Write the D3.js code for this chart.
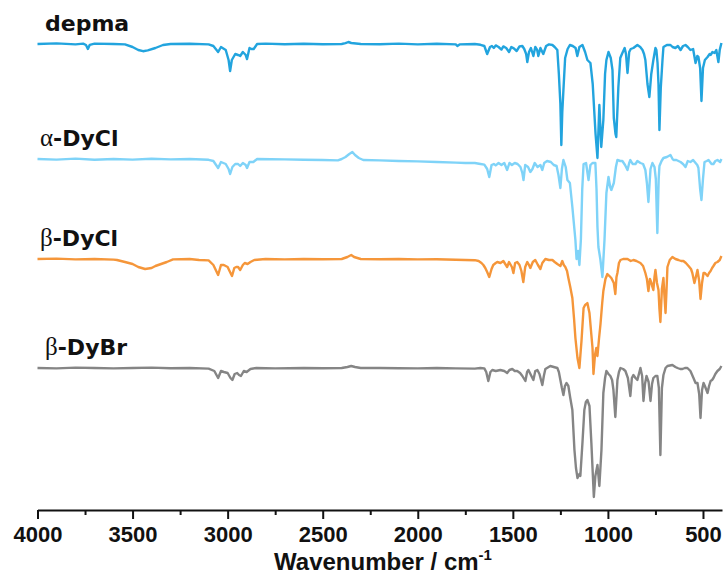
<!DOCTYPE html>
<html><head><meta charset="utf-8">
<script src="https://cdn.jsdelivr.net/npm/d3@7/dist/d3.min.js"></script>
<style>body{margin:0;background:#fff}svg{display:block}</style>
</head><body>
<script>
// ---- data ----
const seriesNames = ["depma", "α-DyCl", "β-DyCl", "β-DyBr"];
const seriesOffsets = [0, -57.5, -107.5, -162];           // stacking offset (%T units)
const seriesColors = ["#22a4de", "#7fd3f8", "#f5963a", "#858585"];
const xTicks = [4000, 3500, 3000, 2500, 2000, 1500, 1000, 500];
const xMinorTicks = [3750, 3250, 2750, 2250, 1750, 1250, 750];

// [wavenumber (cm-1), transmittance (%)]
const depma = [[4000,100],[3900,100.3],[3800,99.8],[3760,100.2],[3745,99.5],[3735,97.5],[3725,99.6],[3700,100.2],[3600,100],[3540,99.8],[3500,98.5],[3470,97],[3445,96.4],[3420,96.8],[3380,98],[3340,99.5],[3300,100],[3200,100.1],[3100,99.8],[3075,99],[3050,96],[3035,98.5],[3010,97],[2995,92],[2987,86.5],[2978,92],[2960,95],[2945,94.5],[2934,94],[2920,96],[2905,94.5],[2898,92.5],[2885,98],[2875,97.5],[2863,97.5],[2845,100],[2800,100.2],[2700,99.9],[2600,100.1],[2500,99.9],[2400,100],[2380,100.4],[2365,101],[2350,100.5],[2300,100],[2200,99.9],[2100,100.2],[2000,99.8],[1900,100.1],[1800,99.8],[1792,99],[1780,99.8],[1700,100],[1670,99.6],[1650,99],[1635,95],[1620,98.5],[1610,99],[1600,98],[1590,99.3],[1575,98.5],[1560,97.2],[1550,98.8],[1535,98],[1520,96],[1508,98.5],[1495,97.8],[1480,96.5],[1465,98.8],[1450,99],[1440,97.5],[1430,95],[1424,91],[1415,96],[1405,98],[1392,94],[1382,98.5],[1372,97],[1366,94],[1355,98],[1340,95],[1325,99],[1310,99.8],[1292,99.5],[1280,98.5],[1266,97],[1258,85],[1250,70],[1245,49.5],[1240,66],[1234,77],[1225,93],[1212,97.5],[1200,99.5],[1185,99],[1170,98],[1161,94],[1150,98.5],[1134,99.5],[1120,96],[1108,92],[1092,90.5],[1080,80],[1065,55],[1055,43],[1045,69.5],[1035,48.5],[1024,62],[1015,85],[1008,92],[997,96],[985,93],[976,87],[969,63],[960,55],[956,53.5],[945,78.5],[935,93],[924,95.5],[912,98],[905,95],[897,85.5],[888,96],[880,97.5],[866,98],[845,99.5],[830,98.5],[818,97],[810,95],[803,92],[792,80],[782,73.5],[772,85],[761,92],[750,98],[745,97],[739,90.5],[734,80],[729,57],[722,78],[713,92],[708,98.5],[690,99.5],[671,99.5],[660,98.5],[645,98],[632,99],[618,97],[605,99],[592,99.5],[580,98.5],[566,97],[552,97.5],[539,90.5],[530,94],[524,93.5],[515,88],[508,71.5],[500,88],[490,92],[476,93.5],[465,95],[460,94.5],[450,96],[439,95.5],[430,97],[419,91],[412,97],[403,100.5]];

const alphaDyCl = [[4000,100],[3900,99.7],[3800,100.2],[3700,99.6],[3600,100],[3500,99.7],[3400,100.1],[3300,99.8],[3200,100],[3100,99.6],[3075,99],[3050,95.5],[3035,98.5],[3010,97.5],[2995,95],[2987,92.5],[2975,96],[2960,97.5],[2945,97.5],[2934,96.5],[2920,98],[2905,97],[2898,95.5],[2885,98.5],[2865,98.5],[2845,100],[2700,99.8],[2600,99.6],[2500,99.5],[2420,99.3],[2400,100],[2380,101],[2360,102.5],[2344,103.5],[2330,102],[2310,100.5],[2287,99.5],[2200,99.3],[2100,99],[2000,98.8],[1900,98.5],[1800,98.2],[1750,98],[1700,98],[1670,97.5],[1650,97.2],[1635,95],[1624,91],[1612,97],[1600,97.5],[1590,96.8],[1575,98],[1560,97],[1545,98],[1530,94.5],[1518,98],[1505,97],[1490,98],[1475,97.5],[1460,96],[1450,93],[1444,89.5],[1435,97],[1420,96],[1408,93.5],[1397,95],[1385,98],[1370,96],[1355,97],[1345,94.5],[1335,98],[1320,99],[1300,98.5],[1285,97],[1270,96.5],[1260,92],[1250,85.5],[1242,95],[1234,99.5],[1222,96],[1213,89.5],[1200,88],[1187,76],[1171,59.5],[1165,50],[1157,54],[1150,47],[1142,60],[1135,85],[1128,97.5],[1115,98],[1102,89.5],[1092,97],[1081,98],[1066,98],[1060,85],[1055,66],[1050,56],[1040,50],[1029,41],[1018,59.5],[1008,83],[997,91],[988,86],[982,84.5],[969,88],[958,96],[950,99.5],[935,99],[924,99],[910,97],[897,94.5],[888,98],[882,99.5],[870,97.5],[855,97.5],[845,99],[829,98],[815,97.5],[803,94.5],[795,88],[787,78.5],[776,95],[766,98],[755,96],[748,90],[740,63],[733,90],[729,96.5],[718,99],[708,100.5],[690,101],[671,102],[660,100],[655,99.5],[640,99.5],[618,98.5],[605,97.5],[592,96],[580,99],[566,98.5],[552,99.5],[539,98],[530,97],[524,95.5],[515,85],[508,79.5],[500,90],[492,98.5],[480,99],[471,99.5],[455,97.5],[445,97.5],[435,99],[424,99.5],[410,98.5],[403,100]];

const betaDyCl = [[4000,100],[3900,100.2],[3800,99.8],[3700,100],[3600,99.7],[3582,99.5],[3540,98.5],[3500,97.5],[3470,96],[3434,95],[3400,95.5],[3380,96.5],[3350,97.5],[3320,98.5],[3287,99.8],[3200,100],[3150,99.5],[3100,99.3],[3075,97],[3050,92],[3035,97],[3020,97],[3000,96],[2990,94],[2977,91.5],[2965,95.5],[2955,96],[2945,96],[2934,94.5],[2920,97],[2910,98],[2895,97.5],[2880,98.5],[2860,99.5],[2800,100],[2700,99.8],[2600,100],[2500,99.9],[2400,100],[2370,101],[2350,102],[2335,101],[2300,100],[2200,99.9],[2100,100],[2000,99.8],[1900,99.9],[1800,99.6],[1750,99.5],[1700,99.4],[1680,99],[1665,98],[1655,97],[1645,95.5],[1635,93.5],[1624,91],[1612,95],[1603,97],[1590,98],[1582,98.5],[1565,98],[1550,99],[1540,97.5],[1530,96],[1520,98.5],[1505,96],[1497,93],[1488,98],[1477,98.5],[1465,97],[1455,94],[1445,88.5],[1435,96],[1424,98.5],[1415,97],[1408,95.5],[1395,98.5],[1382,99.5],[1368,97],[1355,95],[1345,98],[1329,100],[1310,99.5],[1292,99.5],[1280,98.5],[1266,97.5],[1250,96.5],[1240,99],[1232,97],[1224,96],[1215,94],[1208,90.5],[1198,86],[1187,80.5],[1178,70],[1171,60.5],[1160,50.5],[1150,45.5],[1139,59],[1128,75.5],[1120,77],[1113,77.5],[1108,78],[1097,73],[1087,62],[1081,55.5],[1076,42.5],[1068,52],[1061,55.5],[1055,51.5],[1047,60],[1039,67.5],[1030,78],[1024,84],[1013,90],[1003,92.5],[992,91.5],[982,90.5],[969,88],[961,82.5],[955,91],[950,93],[942,98],[934,99.5],[920,100],[897,100],[880,99],[866,99.5],[850,99],[829,98],[815,96.5],[803,93],[795,90],[787,84],[779,90],[771,88],[766,86],[761,84.5],[755,91],[750,94.5],[742,88],[734,84.5],[729,75],[724,68.5],[716,85],[708,90.5],[703,82],[697,73],[692,84],[687,96],[675,99.5],[661,101],[645,100],[629,99.5],[615,99],[603,99],[590,98],[576,96.5],[563,95],[556,93],[545,88],[535,92],[529,94.5],[520,89],[513,80],[505,88],[497,93],[490,93],[476,91.5],[468,93],[460,94],[452,95.5],[445,96.5],[435,98],[424,98.5],[412,99.5],[403,101.5]];

const betaDyBr = [[4000,100],[3900,99.8],[3800,100.2],[3700,100],[3600,99.8],[3500,100],[3400,100.2],[3300,99.9],[3200,100],[3100,99.7],[3070,98.5],[3050,95],[3035,98.5],[3020,98],[3000,97.5],[2985,95],[2975,94],[2963,97],[2950,97.5],[2940,96.5],[2930,96],[2915,98.5],[2900,98],[2880,99.5],[2850,100],[2750,99.8],[2600,100],[2500,99.9],[2400,100],[2370,100.5],[2350,101],[2330,100.5],[2300,100],[2200,100],[2100,99.9],[2000,99.8],[1900,100],[1800,99.8],[1700,99.7],[1671,100],[1650,99.8],[1640,98],[1629,93.5],[1618,98],[1608,99],[1590,98.5],[1566,99],[1545,98.5],[1530,97.5],[1518,99],[1503,99.5],[1490,98.5],[1477,98.5],[1462,97.5],[1450,96],[1434,93.5],[1425,98],[1418,99],[1405,96.5],[1392,94],[1382,98.5],[1371,99],[1360,97],[1345,91.5],[1337,96],[1329,99.5],[1303,101],[1285,100.5],[1266,100],[1258,98],[1250,94],[1242,90],[1234,86.5],[1226,91],[1218,92.5],[1208,91],[1198,85],[1187,79],[1176,59],[1168,50],[1160,45],[1150,47],[1145,46],[1134,62.5],[1124,79],[1116,83],[1108,84],[1097,81],[1087,62.5],[1081,50],[1074,35.5],[1066,46],[1055,51.5],[1045,41],[1034,59],[1024,87.5],[1015,95],[1008,98.5],[997,97],[987,96],[978,94],[971,89],[961,75.5],[950,94],[942,98],[934,100],[920,99.5],[908,98.5],[895,95],[882,86],[874,95],[866,96.5],[855,95],[845,94],[837,97],[829,100],[820,96],[813,83.5],[805,92],[797,96],[786,93],[776,83.5],[768,92],[761,95],[750,96],[740,96],[732,90],[724,56.5],[716,90],[708,96.5],[697,100],[687,101],[661,101.5],[645,100.5],[634,100],[620,99.5],[608,99.5],[595,100],[582,100],[566,98.5],[550,95],[539,92.5],[529,92.5],[520,87],[513,75],[505,89],[497,92.5],[490,91],[476,87.5],[468,91],[460,93.5],[452,94],[445,95],[435,97],[424,98.5],[412,99.5],[403,101]];

const seriesData = [depma, alphaDyCl, betaDyCl, betaDyBr];

// ---- chart ----
const W = 726, H = 576;
const svg = d3.select("body").append("svg").attr("width", W).attr("height", H);

const x = d3.scaleLinear().domain([4000, 400]).range([37.5, 722]);
const y = d3.scaleLinear().domain([-133, 122]).range([510, 0]);

const line = d3.line().x(d => x(d[0])).y(d => y(d[1]));

seriesData.forEach((s, i) => {
  const off = seriesOffsets[i];
  svg.append("path")
    .datum(s.map(d => [d[0], d[1] + off]))
    .attr("fill", "none")
    .attr("stroke", seriesColors[i])
    .attr("stroke-width", 2.4)
    .attr("stroke-linejoin", "round")
    .attr("d", line);
});

// series labels
const labelX = [45, 40, 40, 45];
seriesNames.forEach((name, i) => {
  const base = y(100 + seriesOffsets[i]);
  const t = svg.append("text")
    .attr("x", labelX[i]).attr("y", base - 13)
    .attr("font-family", "DejaVu Sans, Verdana, sans-serif")
    .attr("font-weight", "bold").attr("font-size", 22).attr("fill", "#111");
  const g = name.charAt(0);
  if (g === "α" || g === "β") {
    t.append("tspan").attr("font-family", "Liberation Serif, Times New Roman, serif")
      .attr("font-weight", "normal").attr("font-size", 25).text(g);
    t.append("tspan").text(name.slice(1));
  } else {
    t.text(name);
  }
});

// x axis
const axisG = svg.append("g").attr("transform", "translate(0,510)");
axisG.call(d3.axisBottom(x).tickValues(xTicks).tickFormat(d3.format("d"))
  .tickSize(9).tickSizeOuter(0).tickPadding(7));
axisG.select(".domain").attr("stroke", "#111").attr("stroke-width", 2);
axisG.selectAll(".tick line").attr("stroke", "#111").attr("stroke-width", 2);
axisG.selectAll(".tick text")
  .attr("font-family", "Liberation Sans, Arial, sans-serif")
  .attr("font-weight", "bold").attr("font-size", 22).attr("fill", "#111");

const minorG = svg.append("g").attr("transform", "translate(0,510)");
minorG.call(d3.axisBottom(x).tickValues(xMinorTicks).tickFormat("").tickSize(5).tickSizeOuter(0));
minorG.select(".domain").remove();
minorG.selectAll(".tick line").attr("stroke", "#111").attr("stroke-width", 2);

// axis title
const title = svg.append("text")
  .attr("x", 383).attr("y", 570).attr("text-anchor", "middle")
  .attr("font-family", "Liberation Sans, Arial, sans-serif")
  .attr("font-weight", "bold").attr("font-size", 24).attr("fill", "#111");
title.append("tspan").text("Wavenumber / cm");
title.append("tspan").attr("font-size", 15).attr("dy", -10).text("-1");
</script>
</body></html>
